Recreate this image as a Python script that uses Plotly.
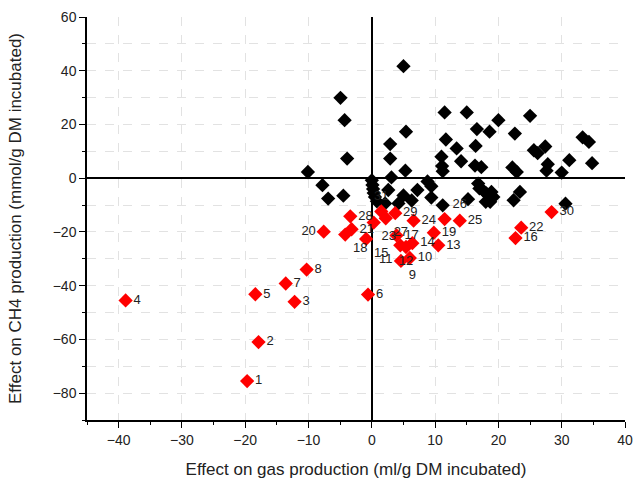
import plotly.graph_objects as go

# Black (unlabelled) points: effect on gas production (x), effect on CH4 production (y)
black_x = [-10.1, -4.95, -4.3, -3.9, -7.8, -6.9, -4.5, 5.0, 5.4, 2.9, 2.9, 3.1, 5.3, 2.6, 5.0,
           7.2, 8.8, 9.4, 9.4, 11.5, 15.0, 11.7, 11.0, 11.1, 11.2, 13.4, 14.1, 16.6, 16.4, 16.3,
           17.3, 18.6, 20.0, 22.6, 25.0, 22.2, 22.9, 25.6, 26.2, 27.4, 27.8, 27.6, 30.0, 31.2,
           33.3, 34.3, 34.8, 16.8, 17.0, 17.6, 18.1, 18.9, 19.2, 18.0, 18.7, 15.2, 11.2, 23.4,
           22.4, 30.6, 0.0, 0.1, 0.2, 0.3, 0.5, 0.8, 2.1, 4.2, 6.3]
black_y = [2.3, 29.9, 21.6, 7.3, -2.6, -7.6, -6.5, 41.7, 17.3, 12.7, 7.3, 0.3, 2.8, -4.4, -6.4,
           -4.4, -1.2, -3.0, -7.2, 24.5, 24.5, 14.4, 8.0, 4.5, 2.6, 11.1, 6.3, 18.3, 12.0, 4.7,
           4.1, 17.3, 21.6, 16.6, 23.2, 4.0, 2.3, 10.4, 9.3, 11.8, 5.2, 2.8, 2.1, 6.7,
           15.2, 13.5, 5.6, -2.0, -3.8, -4.6, -5.7, -5.1, -7.0, -8.8, -8.8, -7.8, -10.1, -5.1,
           -8.2, -9.5, -0.8, -2.5, -4.0, -5.5, -7.0, -8.6, -9.4, -9.4, -8.3]

# Red (labelled) points
red_labels = [str(i) for i in range(1, 32)]
red_x = [-19.7, -17.9, -12.2, -38.9, -18.4, -0.6, -13.6, -10.3, 4.6, 6.0,
         4.5, 5.4, 10.5, 6.4, -0.9, 22.7, 3.9, -4.2, 9.8, -7.6,
         -3.2, 23.6, 0.3, 6.6, 13.9, 11.5, 2.2, -3.4, 3.7, 28.4, 1.5]
red_y = [-75.5, -61.0, -46.0, -45.5, -43.2, -43.3, -39.2, -34.0, -30.8, -29.7,
         -25.0, -25.6, -25.0, -24.2, -22.6, -22.3, -21.3, -21.0, -20.3, -19.9,
         -19.0, -18.4, -16.5, -15.8, -15.8, -15.2, -14.9, -14.2, -13.0, -12.6, -12.4]
red_textpos = ["middle right"] * 31
for lab, pos in {"9": "bottom right", "11": "bottom left", "12": "bottom center",
                 "15": "bottom right", "18": "bottom right", "20": "middle left",
                 "23": "bottom right", "27": "bottom right", "26": "top right",
                 "31": "top center"}.items():
    red_textpos[int(lab) - 1] = pos

x_ticks = [-40, -30, -20, -10, 0, 10, 20, 30, 40]
y_ticks = [-80, -60, -40, -20, 0, 20, 40, 60]

FONT = "Liberation Sans, Arial, sans-serif"

fig = go.Figure()
fig.add_trace(go.Scatter(
    x=black_x, y=black_y, mode="markers",
    marker=dict(symbol="diamond", size=11, color="black"),
    showlegend=False, hoverinfo="x+y", cliponaxis=False))
fig.add_trace(go.Scatter(
    x=red_x, y=red_y, mode="markers+text", text=red_labels,
    textposition=red_textpos,
    textfont=dict(family=FONT, size=13, color="#222222"),
    marker=dict(symbol="diamond", size=11, color="#ff0000"),
    showlegend=False, hoverinfo="x+y+text", cliponaxis=False))

axis_common = dict(
    automargin=False,
    showline=True, linecolor="black", linewidth=1.5,
    ticks="outside", ticklen=6, tickcolor="black", tickwidth=1.2,
    zeroline=True, zerolinecolor="black", zerolinewidth=1.8,
    showgrid=True, gridcolor="#e2e2e2", griddash="dash", gridwidth=1,
    tickfont=dict(family=FONT, size=14, color="#222222"),
)

fig.update_xaxes(
    range=[-45, 40], tickvals=x_ticks,
    minor=dict(dtick=5, tick0=0, ticks="outside", ticklen=3, tickcolor="black", showgrid=False),
    title=dict(text="Effect on gas production (ml/g DM incubated)",
               font=dict(family=FONT, size=17, color="#222222"), standoff=17),
    **axis_common)
fig.update_yaxes(
    range=[-90, 60], tickvals=y_ticks,
    minor=dict(dtick=10, tick0=0, ticks="outside", ticklen=3, tickcolor="black",
               showgrid=True, gridcolor="#e2e2e2", griddash="dash"),
    title=dict(text="Effect on CH4 production (mmol/g DM incubated)",
               font=dict(family=FONT, size=17, color="#222222"), standoff=27),
    **axis_common)

fig.update_layout(
    width=644, height=490,
    margin=dict(l=87, r=19, t=17, b=70),
    paper_bgcolor="white", plot_bgcolor="white",
)

fig.write_html("out.html", config={"displayModeBar": False},
               post_script="document.body.style.margin='0';document.body.style.padding='0';")
